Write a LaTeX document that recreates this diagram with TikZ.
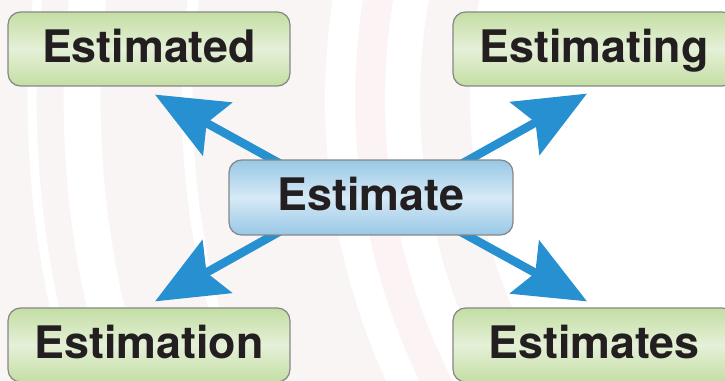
\documentclass[tikz,border=0pt]{standalone}
\usepackage{fontspec}
\setmainfont{TeX Gyre Heros}
\usetikzlibrary{arrows.meta,backgrounds}
\definecolor{leafgreen}{RGB}{195,222,163}
\definecolor{leaflight}{RGB}{229,240,216}
\definecolor{skyblue}{RGB}{152,200,230}
\definecolor{skylight}{RGB}{214,233,246}
\definecolor{arrowblue}{RGB}{38,144,208}
\definecolor{boxgray}{RGB}{135,135,135}
\definecolor{inkblack}{RGB}{35,31,32}
\definecolor{tint}{RGB}{249,245,244}
\definecolor{rosetint}{RGB}{252,244,244}

\begin{document}
\begin{tikzpicture}[x=0.02cm,y=-0.02cm,
    word/.style={draw=boxgray,line width=0.7pt,rounded corners=0.25cm,
      top color=leafgreen,bottom color=leafgreen,middle color=leaflight,
      minimum width=5.64cm,minimum height=1.48cm,inner sep=0pt,
      text height=20pt,text depth=5pt,text=inkblack,
      font=\fontsize{25.5}{30}\selectfont\bfseries},
    root/.style={word,top color=skyblue,bottom color=skyblue,middle color=skylight,
      minimum width=5.68cm,minimum height=1.5cm},
    link/.style={arrowblue,line width=0.17cm,shorten <=-0.3cm,
      -{Stealth[length=1.42cm,width=1.2cm,inset=0.24cm]}}]
  \useasboundingbox (0,0) rectangle (725,381);
  \node[root] (estm) at (371,197.5) {Estimate};
  \node[word] (estd) at (149,49) {Estimated};
  \node[word] (estg) at (594,49) {Estimating};
  \node[word] (estn) at (149,345) {Estimation};
  \node[word] (ests) at (594,345) {Estimates};
  \begin{scope}[on background layer]
    \fill[tint] (1000,100) circle (22cm);
    \fill[white] (1000,100) circle (10.6cm);
    \draw[rosetint,line width=0.6cm] (1000,100) circle (12.6cm);
    \foreach \r/\w in {19.36/0.18,18.36/0.74,16.26/0.22,13.2/0.6,11.95/0.7}
      \draw[white,line width=\w cm] (1000,100) circle (\r cm);
    \draw[link] ([xshift=0.88cm]estm.north west) -- ([xshift=0.12cm,yshift=-0.16cm]estd.south);
    \draw[link] ([xshift=-0.88cm]estm.north east) -- ([xshift=-0.14cm,yshift=-0.14cm]estg.south);
    \draw[link] ([xshift=0.88cm]estm.south west) -- ([xshift=0.12cm,yshift=0.12cm]estn.north);
    \draw[link] ([xshift=-0.92cm]estm.south east) -- ([xshift=-0.14cm,yshift=0.12cm]ests.north);
  \end{scope}
\end{tikzpicture}
\end{document}
